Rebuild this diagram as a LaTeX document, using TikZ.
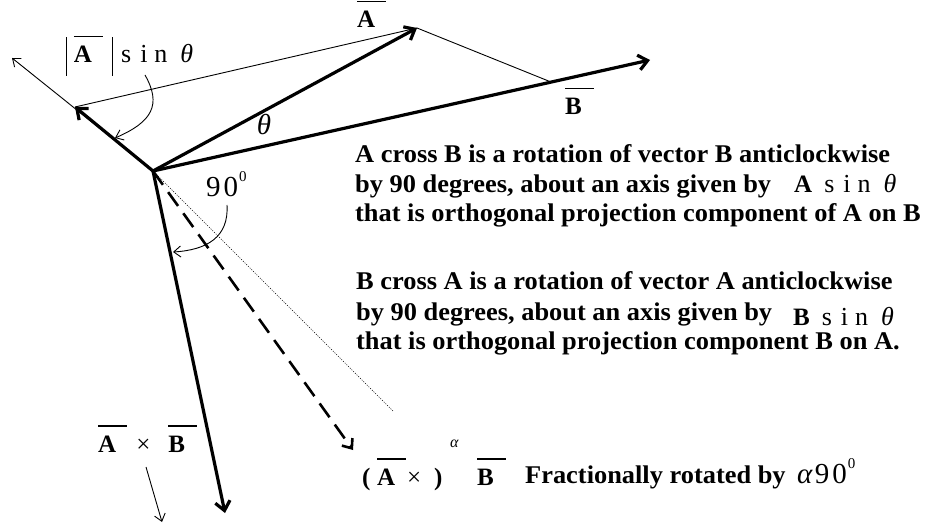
\documentclass[tikz,border=0pt]{standalone}
\usepackage{fontspec}
\setmainfont{Liberation Serif}
\newfontfamily\txtfont[FakeStretch=1.035]{Liberation Serif}
\usetikzlibrary{arrows.meta}
\newcommand\ovl[1]{\rlap{\rule[1.02em]{1.15em}{0.045em}}\textbf{#1}}
\newcommand\vbr{\rule[-13pt]{1.2pt}{39pt}}
\begin{document}
\begin{tikzpicture}[x=1pt,y=-1pt,
  thickvec/.style={line width=3.2pt,-{Straight Barb[length=9pt,width=15pt,line width=3.2pt]}},
  thinvec/.style={line width=0.9pt,-{Straight Barb[length=7pt,width=11pt,line width=0.9pt]}},
  thinln/.style={line width=0.9pt},
  dashvec/.style={line width=2.6pt,dash pattern=on 17pt off 9pt,-{Straight Barb[length=8pt,width=13pt,line width=2.6pt]}},
  dotln/.style={line width=0.6pt,dash pattern=on 1pt off 1.4pt},
  txt/.style={anchor=base west,inner sep=0pt,font=\fontsize{25.5}{30}\txtfont\bfseries},
  lab/.style={anchor=base west,inner sep=0pt,font=\fontsize{25}{30}\selectfont},
  big/.style={inner sep=0pt,font=\fontsize{29}{30}\selectfont}]
\useasboundingbox (0,0) rectangle (926,529);
\fill[white] (0,0) rectangle (926,529);
% points
\coordinate (O) at (153,171);
\coordinate (Atip) at (417,28);
\coordinate (Btip) at (650,60);
\coordinate (Bfoot) at (551,82);
\coordinate (P) at (75,107);
\coordinate (Pfar) at (12,58);
\coordinate (D) at (225,513);
\coordinate (F) at (353,450);
\coordinate (G) at (393,411);
\coordinate (c1s) at (145,75);
\coordinate (c1e) at (115,138);
\coordinate (c2s) at (227,205);
\coordinate (c2e) at (173,252);
\coordinate (c3s) at (146,467);
\coordinate (c3e) at (162,522);
% thin construction lines
\draw[thinln] (P) -- (Atip);
\draw[thinln] (Atip) -- (Bfoot);
\draw[thinvec] (O) -- (Pfar);
\draw[dotln] (O) -- (G);
% vectors
\draw[thickvec] (O) -- (P);
\draw[thickvec] (O) -- (Atip);
\draw[thickvec] (O) -- (Btip);
\draw[thickvec] (O) -- (D);
\draw[dashvec] (O) -- (F);
% curved arrows
\draw[thinvec] (c1s) .. controls (162,105) and (152,122) .. (c1e);
\draw[thinvec] (c2s) .. controls (229,237) and (207,250) .. (c2e);
\draw[thinvec] (c3s) -- (c3e);
% labels near vectors
\node[lab] (LA) at (357,28) {\ovl{A}};
\node[lab] (LB) at (565,115) {\ovl{B}};
\node[big] (Lth) at (264,125) {\textit{θ}};
\node[big,anchor=base west] (L90) at (206,197) {9\hspace{3pt}0\hspace{1pt}\raisebox{15pt}{\fontsize{15}{16}\selectfont 0}};
\node[lab] (Labs) at (66,63) {\vbr\hspace{6.5pt}\ovl{A}\hspace{20pt}\vbr\hspace{8pt}\fontsize{26}{30}\selectfont s\hspace{9pt}i\hspace{7pt}n\hspace{13pt}\textit{θ}};
\node[lab] (Lcross) at (98,452) {\ovl{A}\hspace{20pt}×\hspace{18pt}\ovl{B}};
% text block 1
\node[txt] (T1a) at (355,163) {A cross B is a rotation of vector B anticlockwise};
\node[txt] (T1b) at (355,193) {by 90 degrees, about an axis given by};
\node[lab] (T1m) at (794,193) {\textbf{A}\hspace{12pt}\fontsize{26}{30}\selectfont s\hspace{9pt}i\hspace{7pt}n\hspace{13pt}\textit{θ}};
\node[txt] (T1c) at (355,222) {that is orthogonal projection component of A on B};
% text block 2
\node[txt] (T2a) at (356,290) {B cross A is a rotation of vector A anticlockwise};
\node[txt] (T2b) at (356,320) {by 90 degrees, about an axis given by};
\node[lab] (T2m) at (793,325) {\textbf{B}\hspace{12pt}\fontsize{26}{30}\selectfont s\hspace{9pt}i\hspace{7pt}n\hspace{13pt}\textit{θ}};
\node[txt] (T2c) at (356,349) {that is orthogonal projection component B on A.};
% bottom formula
\node[lab] (Bp1) at (362,485) {\textbf{(}};
\node[lab] (BA) at (377,485) {\ovl{A}};
\node[lab] (Bx) at (407,485) {×};
\node[lab] (Bp2) at (434,485) {\textbf{)}};
\node[lab] (Bal) at (450,447) {\fontsize{16}{18}\selectfont\textit{α}};
\node[lab] (BB) at (477,485) {\ovl{B}};
\node[txt] (Bfr) at (525,483) {Fractionally rotated by};
\node[lab] (Bang) at (797,483) {\fontsize{29}{30}\selectfont\textit{α}\hspace{2pt}9\hspace{3pt}0\hspace{1pt}\raisebox{15pt}{\fontsize{15}{16}\selectfont 0}};
\end{tikzpicture}
\end{document}
